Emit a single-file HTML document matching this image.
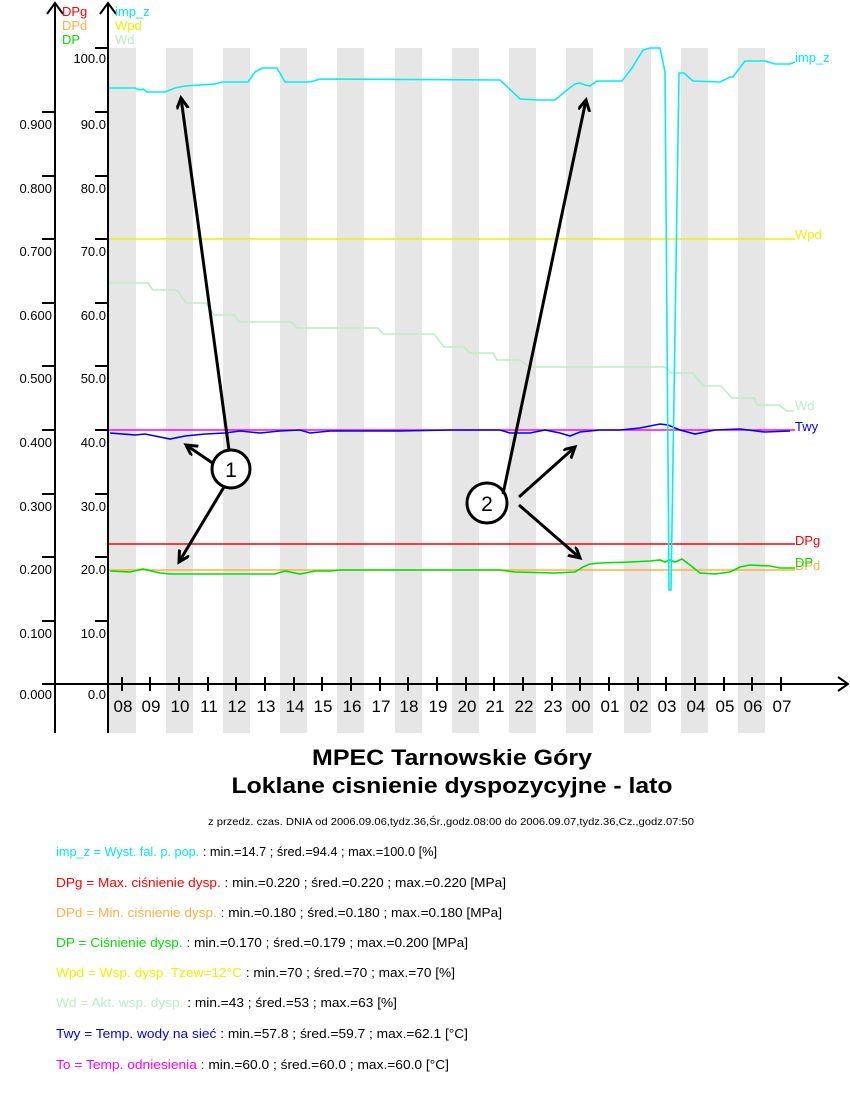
<!DOCTYPE html>
<html><head><meta charset="utf-8"><style>
html,body{margin:0;padding:0;background:#fff;}
svg{display:block;font-family:"Liberation Sans",sans-serif;}
</style></head><body>
<svg width="850" height="1100" viewBox="0 0 850 1100" xmlns="http://www.w3.org/2000/svg">
<defs>
<marker id="ah" markerWidth="14" markerHeight="14" refX="11" refY="6" orient="auto" markerUnits="userSpaceOnUse">
<path d="M0,0 L11,6 L0,12" fill="none" stroke="#000" stroke-width="3"/>
</marker>
</defs>
<!-- bands -->
<g fill="#e6e6e6">
<rect x="109" y="48" width="27" height="685"/>
<rect x="166" y="48" width="27" height="685"/>
<rect x="223" y="48" width="27" height="685"/>
<rect x="280" y="48" width="27" height="685"/>
<rect x="337" y="48" width="27" height="685"/>
<rect x="395" y="48" width="27" height="685"/>
<rect x="452" y="48" width="27" height="685"/>
<rect x="509" y="48" width="27" height="685"/>
<rect x="566" y="48" width="27" height="685"/>
<rect x="624" y="48" width="27" height="685"/>
<rect x="681" y="48" width="27" height="685"/>
<rect x="738" y="48" width="27" height="685"/>
</g>
<!-- axes -->
<g stroke="#000" stroke-width="2" fill="none">
<line x1="55" y1="3" x2="55" y2="733"/>
<line x1="108" y1="3" x2="108" y2="733"/>
<line x1="42" y1="684" x2="848" y2="684"/>
<polyline points="47,14 55,3 63,14"/>
<polyline points="100,14 108,3 116,14"/>
<polyline points="838,677 848,684 838,691"/>
</g>
<g stroke="#000" stroke-width="2">
<line x1="42" y1="112" x2="55" y2="112"/><line x1="42" y1="176" x2="55" y2="176"/><line x1="42" y1="239" x2="55" y2="239"/><line x1="42" y1="303" x2="55" y2="303"/><line x1="42" y1="366" x2="55" y2="366"/><line x1="42" y1="430" x2="55" y2="430"/><line x1="42" y1="494" x2="55" y2="494"/><line x1="42" y1="557" x2="55" y2="557"/><line x1="42" y1="621" x2="55" y2="621"/>
<line x1="95" y1="48" x2="108" y2="48"/><line x1="95" y1="112" x2="108" y2="112"/><line x1="95" y1="176" x2="108" y2="176"/><line x1="95" y1="239" x2="108" y2="239"/><line x1="95" y1="303" x2="108" y2="303"/><line x1="95" y1="366" x2="108" y2="366"/><line x1="95" y1="430" x2="108" y2="430"/><line x1="95" y1="494" x2="108" y2="494"/><line x1="95" y1="557" x2="108" y2="557"/><line x1="95" y1="621" x2="108" y2="621"/>
</g>
<g font-size="13" text-anchor="end" fill="#000">
<text x="52" y="129">0.900</text><text x="52" y="193">0.800</text><text x="52" y="256">0.700</text><text x="52" y="320">0.600</text><text x="52" y="383">0.500</text><text x="52" y="447">0.400</text><text x="52" y="511">0.300</text><text x="52" y="574">0.200</text><text x="52" y="638">0.100</text><text x="52" y="699">0.000</text>
<text x="106" y="63">100.0</text><text x="106" y="129">90.0</text><text x="106" y="193">80.0</text><text x="106" y="256">70.0</text><text x="106" y="320">60.0</text><text x="106" y="383">50.0</text><text x="106" y="447">40.0</text><text x="106" y="511">30.0</text><text x="106" y="574">20.0</text><text x="106" y="638">10.0</text><text x="106" y="699">0.0</text>
</g>
<!-- hour ticks + labels -->
<g stroke="#000" stroke-width="2">
<line x1="122" y1="677" x2="122" y2="691"/><line x1="150" y1="677" x2="150" y2="691"/><line x1="179" y1="677" x2="179" y2="691"/><line x1="208" y1="677" x2="208" y2="691"/><line x1="236" y1="677" x2="236" y2="691"/><line x1="265" y1="677" x2="265" y2="691"/><line x1="294" y1="677" x2="294" y2="691"/><line x1="322" y1="677" x2="322" y2="691"/><line x1="351" y1="677" x2="351" y2="691"/><line x1="380" y1="677" x2="380" y2="691"/><line x1="408" y1="677" x2="408" y2="691"/><line x1="437" y1="677" x2="437" y2="691"/><line x1="466" y1="677" x2="466" y2="691"/><line x1="494" y1="677" x2="494" y2="691"/><line x1="523" y1="677" x2="523" y2="691"/><line x1="552" y1="677" x2="552" y2="691"/><line x1="580" y1="677" x2="580" y2="691"/><line x1="609" y1="677" x2="609" y2="691"/><line x1="638" y1="677" x2="638" y2="691"/><line x1="666" y1="677" x2="666" y2="691"/><line x1="695" y1="677" x2="695" y2="691"/><line x1="724" y1="677" x2="724" y2="691"/><line x1="752" y1="677" x2="752" y2="691"/><line x1="781" y1="677" x2="781" y2="691"/>
</g>
<g font-size="17" text-anchor="middle" fill="#000">
<text x="123" y="712">08</text><text x="151" y="712">09</text><text x="180" y="712">10</text><text x="209" y="712">11</text><text x="237" y="712">12</text><text x="266" y="712">13</text><text x="295" y="712">14</text><text x="323" y="712">15</text><text x="352" y="712">16</text><text x="381" y="712">17</text><text x="409" y="712">18</text><text x="438" y="712">19</text><text x="467" y="712">20</text><text x="495" y="712">21</text><text x="524" y="712">22</text><text x="553" y="712">23</text><text x="581" y="712">00</text><text x="610" y="712">01</text><text x="639" y="712">02</text><text x="667" y="712">03</text><text x="696" y="712">04</text><text x="725" y="712">05</text><text x="753" y="712">06</text><text x="782" y="712">07</text>
</g>
<!-- top legend -->
<g font-size="13">
<text x="62" y="16" fill="#ff0000">DPg</text><text x="62" y="30" fill="#ffb040">DPd</text><text x="62" y="44" fill="#00e000">DP</text>
<text x="115" y="16" fill="#00e8e8">imp_z</text><text x="115" y="30" fill="#f0f000">Wpd</text><text x="115" y="44" fill="#b8f0c0">Wd</text>
</g>
<!-- series -->
<g fill="none" stroke-width="1.6">
<line x1="109" y1="239" x2="795" y2="239" stroke="#f0f000"/>
<polyline stroke="#b8f0c0" points="109,283 148,283 153,290 177,290 186,303 206,303 214,315 234,315 239,322 291,322 297,328 378,328 383,334 434,334 444,347 464,347 470,353 493,353 497,360 520,360 529,367 665,367 671,373 693,373 703,386 721,386 732,398 754,398 757,405 779,405 787,411 794,411"/>
<line x1="109" y1="430" x2="795" y2="430" stroke="#ff00ff"/>
<polyline stroke="#0000ff" points="110,433 135,435 145,434 155,436 170,439 185,436 205,434 225,433 240,431 260,433 280,431 300,430 310,433 330,431 400,431 450,430 500,430 510,433 530,433 545,430 560,433 570,436 580,432 600,430 620,430 640,428 660,424 668,425 680,430 695,434 715,430 740,429 765,432 790,431"/>
<line x1="109" y1="544" x2="795" y2="544" stroke="#ff0000"/>
<line x1="109" y1="570" x2="795" y2="570" stroke="#ffb040"/>
<polyline stroke="#00e000" points="110,571 130,572 143,569 160,573 170,574 230,574 255,574 275,574 285,571 300,574 315,571 330,571 340,570 400,570 500,570 515,572 555,573 575,572 583,567 590,564 600,563 630,562 650,561 660,560 665,562 670,560 675,562 682,559 690,565 700,573 715,574 730,572 740,567 750,565 770,566 780,568 795,568"/>
<polyline stroke="#00f0f0" points="109,88 135,88 140,90 143,89 147,92 165,92 175,88 185,86 200,85 215,84 222,82 248,82 255,72 262,68 277,68 285,82 310,82 320,79 500,80 520,99 540,100 555,100 567,90 575,84 580,83 585,85 590,86 597,81 622,81 632,68 643,50 650,48 660,48 665,72 669,590 671,590 679,73 684,73 693,81 720,82 730,77 733,77 745,61 765,61 775,64 790,64 795,62"/>
</g>
<!-- right labels -->
<g font-size="13">
<text x="795" y="62" fill="#00e8e8">imp_z</text>
<text x="795" y="239" fill="#f0f000">Wpd</text>
<text x="795" y="410" fill="#b8f0c0">Wd</text>
<text x="795" y="431" fill="#0000ff">Twy</text>
<text x="795" y="545" fill="#ff0000">DPg</text>
<text x="795" y="570" fill="#ffb040">DPd</text>
<text x="795" y="567" fill="#00e000">DP</text>
</g>
<!-- annotations -->
<g stroke="#000" stroke-width="3" fill="none">
<circle cx="231" cy="469" r="19" fill="#fff"/>
<circle cx="487" cy="503" r="20" fill="#fff"/>
<line x1="229" y1="450" x2="181" y2="98" marker-end="url(#ah)"/>
<line x1="214" y1="464" x2="186" y2="445" marker-end="url(#ah)"/>
<line x1="224" y1="487" x2="179" y2="562" marker-end="url(#ah)"/>
<line x1="503" y1="494" x2="586" y2="100" marker-end="url(#ah)"/>
<line x1="519" y1="497" x2="575" y2="447" marker-end="url(#ah)"/>
<line x1="519" y1="505" x2="580" y2="558" marker-end="url(#ah)"/>
</g>
<g font-size="21" text-anchor="middle" fill="#000">
<text x="231" y="477">1</text><text x="487" y="511">2</text>
</g>
<!-- titles -->
<g font-weight="bold" font-size="22" text-anchor="middle" fill="#000">
<text x="452" y="765" textLength="280" lengthAdjust="spacingAndGlyphs">MPEC Tarnowskie Góry</text>
<text x="452" y="793" textLength="441" lengthAdjust="spacingAndGlyphs">Loklane cisnienie dyspozycyjne - lato</text>
</g>
<text x="451" y="825" font-size="10" text-anchor="middle" textLength="486" lengthAdjust="spacingAndGlyphs">z przedz. czas. DNIA od 2006.09.06,tydz.36,Śr.,godz.08:00 do 2006.09.07,tydz.36,Cz.,godz.07:50</text>
<g font-size="13" fill="#000">
<text x="56" y="856" textLength="381" lengthAdjust="spacingAndGlyphs"><tspan fill="#00e8e8">imp_z = Wyst. fal. p. pop.</tspan> : min.=14.7 ; śred.=94.4 ; max.=100.0 [%]</text>
<text x="56" y="887" textLength="450" lengthAdjust="spacingAndGlyphs"><tspan fill="#ff0000">DPg = Max. ciśnienie dysp.</tspan> : min.=0.220 ; śred.=0.220 ; max.=0.220 [MPa]</text>
<text x="56" y="917" textLength="446" lengthAdjust="spacingAndGlyphs"><tspan fill="#ffb040">DPd = Min. ciśnienie dysp.</tspan> : min.=0.180 ; śred.=0.180 ; max.=0.180 [MPa]</text>
<text x="56" y="947" textLength="412" lengthAdjust="spacingAndGlyphs"><tspan fill="#00e000">DP = Ciśnienie dysp.</tspan> : min.=0.170 ; śred.=0.179 ; max.=0.200 [MPa]</text>
<text x="56" y="977" textLength="399" lengthAdjust="spacingAndGlyphs"><tspan fill="#f0f000">Wpd = Wsp. dysp. Tzew=12°C</tspan> : min.=70 ; śred.=70 ; max.=70 [%]</text>
<text x="56" y="1007" textLength="341" lengthAdjust="spacingAndGlyphs"><tspan fill="#b8f0c0">Wd = Akt. wsp. dysp.</tspan> : min.=43 ; śred.=53 ; max.=63 [%]</text>
<text x="56" y="1038" textLength="412" lengthAdjust="spacingAndGlyphs"><tspan fill="#0000ff">Twy = Temp. wody na sieć</tspan> : min.=57.8 ; śred.=59.7 ; max.=62.1 [°C]</text>
<text x="56" y="1069" textLength="393" lengthAdjust="spacingAndGlyphs"><tspan fill="#ff00ff">To = Temp. odniesienia</tspan> : min.=60.0 ; śred.=60.0 ; max.=60.0 [°C]</text>
</g>
</svg>
</body></html>
